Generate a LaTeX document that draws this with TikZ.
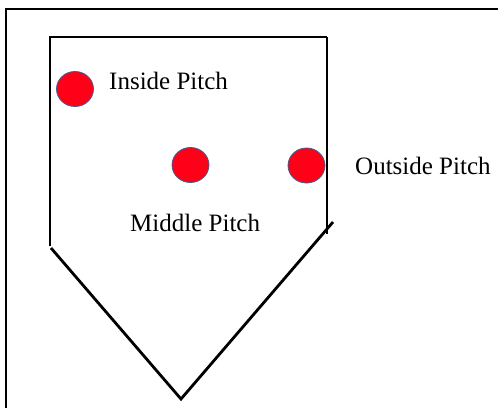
\documentclass[tikz,border=0pt]{standalone}
\usepackage{fontspec}
\setmainfont{Liberation Serif}
\usetikzlibrary{shapes.geometric}
\definecolor{pitchred}{RGB}{255,0,25}
\definecolor{pitchedge}{RGB}{70,90,140}
\tikzset{
  plate/.style={line width=2.8pt, black, line cap=butt},
  frame/.style={line width=2pt, black},
  ball/.style={ellipse, fill=pitchred, draw=pitchedge, line width=0.8pt, minimum width=37pt, minimum height=35pt, inner sep=0pt},
  lbl/.style={anchor=base west, inner sep=0pt, font=\fontsize{25}{28}\selectfont}
}
\begin{document}
\begin{tikzpicture}[x=1pt,y=-1pt]
\useasboundingbox (0,0) rectangle (498,408);
% frame (top and left edges)
\coordinate (f1) at (5.5,408);
\coordinate (f2) at (5.5,8.5);
\coordinate (f3) at (498,8.5);
\draw[frame] (f1) -- (f2) -- (f3);
% home plate
\coordinate (tl) at (50,37);
\coordinate (tr) at (327,37);
\coordinate (lb) at (50,246);
\coordinate (lb2) at (51,248);
\coordinate (rb) at (327,234);
\coordinate (rd) at (333,222);
\coordinate (apex) at (181,399);
\draw[plate] (lb) -- (tl) -- (tr);
\draw[plate] (tr) -- (rb);
\draw[plate] (lb2) -- (apex) -- (rd);
% balls
\node[ball] (inside) at (75,89) {};
\node[ball] (middle) at (190.5,165) {};
\node[ball] (outside) at (306.5,165.5) {};
% labels
\node[lbl] (tin) at (109,89) {Inside Pitch};
\node[lbl] (tout) at (355,174) {Outside Pitch};
\node[lbl] (tmid) at (130,231) {Middle Pitch};
\end{tikzpicture}
\end{document}
